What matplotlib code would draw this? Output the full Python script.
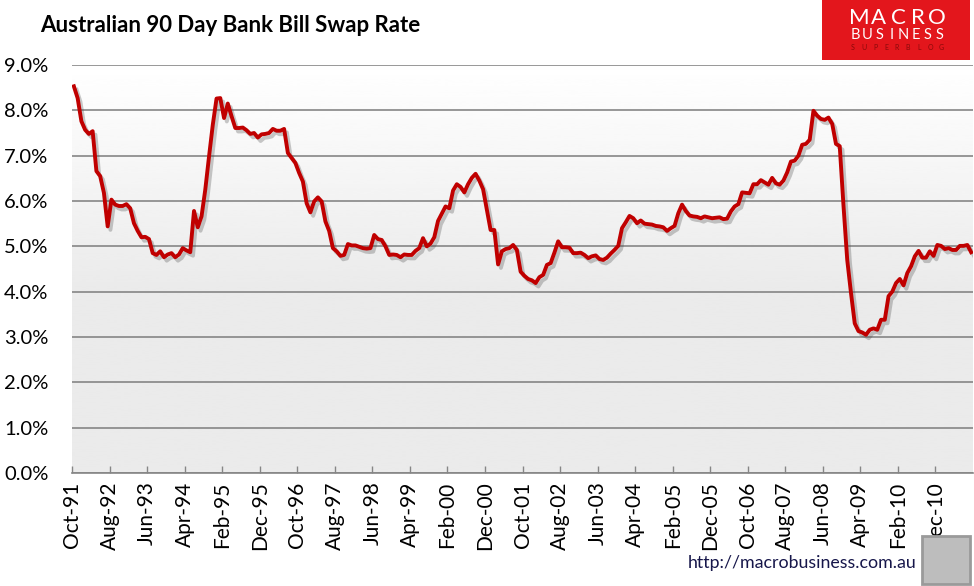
import numpy as np
import pandas as pd
import matplotlib.pyplot as plt
import matplotlib.patheffects as pe
from matplotlib.patches import Rectangle

plt.rcParams['font.family'] = ['Lato', 'DejaVu Sans']

# 90 day BBSW, monthly Oct-91 .. Sep-11 (%)
rate = [
    8.53, 8.27, 7.76, 7.57, 7.48, 7.54, 6.66, 6.55, 6.18, 5.44,   # Oct-91
    6.03, 5.92, 5.89, 5.89, 5.93, 5.84, 5.51, 5.34, 5.20, 5.21,   # Aug-92
    5.16, 4.85, 4.81, 4.89, 4.76, 4.82, 4.85, 4.76, 4.82, 4.96,   # Jun-93
    4.91, 4.87, 5.78, 5.42, 5.66, 6.25, 6.98, 7.68, 8.26, 8.27,   # Apr-94
    7.83, 8.15, 7.87, 7.61, 7.61, 7.62, 7.56, 7.48, 7.50, 7.40,   # Feb-95
    7.47, 7.48, 7.50, 7.59, 7.55, 7.55, 7.59, 7.06, 6.95, 6.84,   # Dec-95
    6.62, 6.43, 5.95, 5.75, 5.99, 6.08, 5.99, 5.55, 5.34, 4.96,   # Oct-96
    4.89, 4.79, 4.81, 5.05, 5.02, 5.02, 4.99, 4.96, 4.95, 4.96,   # Aug-97
    5.25, 5.16, 5.14, 5.00, 4.81, 4.82, 4.81, 4.76, 4.82, 4.81,   # Jun-98
    4.81, 4.90, 4.96, 5.18, 5.00, 5.06, 5.20, 5.56, 5.72, 5.88,   # Apr-99
    5.84, 6.23, 6.37, 6.31, 6.19, 6.37, 6.51, 6.60, 6.45, 6.26,   # Feb-00
    5.81, 5.36, 5.36, 4.60, 4.89, 4.94, 4.96, 5.03, 4.92, 4.44,   # Dec-00
    4.35, 4.28, 4.25, 4.19, 4.32, 4.37, 4.59, 4.63, 4.86, 5.11,   # Oct-01
    4.98, 4.98, 4.97, 4.85, 4.85, 4.86, 4.81, 4.74, 4.78, 4.80,   # Aug-02
    4.72, 4.70, 4.75, 4.84, 4.92, 5.01, 5.40, 5.53, 5.67, 5.62,   # Jun-03
    5.51, 5.57, 5.50, 5.49, 5.48, 5.45, 5.44, 5.42, 5.34, 5.40,   # Apr-04
    5.45, 5.73, 5.92, 5.78, 5.68, 5.66, 5.65, 5.62, 5.66, 5.64,   # Feb-05
    5.62, 5.63, 5.64, 5.60, 5.61, 5.77, 5.88, 5.93, 6.19, 6.18,   # Dec-05
    6.17, 6.37, 6.37, 6.46, 6.41, 6.36, 6.51, 6.39, 6.36, 6.45,   # Oct-06
    6.63, 6.87, 6.89, 7.00, 7.24, 7.26, 7.35, 7.99, 7.88, 7.81,   # Aug-07
    7.79, 7.84, 7.70, 7.26, 7.21, 5.90, 4.70, 3.97, 3.30, 3.13,   # Jun-08
    3.10, 3.05, 3.16, 3.19, 3.16, 3.38, 3.38, 3.90, 4.00, 4.19,   # Apr-09
    4.28, 4.14, 4.41, 4.56, 4.78, 4.90, 4.75, 4.75, 4.89, 4.79,   # Feb-10
    5.03, 5.01, 4.94, 4.96, 4.92, 4.92, 5.01, 5.01, 5.03, 4.87,   # Dec-10
]
months = pd.date_range('1991-10-01', periods=len(rate), freq='MS')
label_every = 10
x_labels = [d.strftime('%b-%y') for d in months[::label_every]]
y_ticks = np.arange(0, 10, 1)

W, H = 974, 586
fig = plt.figure(figsize=(W / 100, H / 100), dpi=100)
ax = fig.add_axes([72 / W, 1 - 473 / H, (973 - 72) / W, (473 - 65) / H])

n = len(rate)
x = np.arange(n)

# plot area background: white at the top fading to light grey
g = np.clip(np.linspace(0, 1, 300) / 0.55, 0, 1)
grad = (1 - 0.08 * g)[:, None]
ax.imshow(grad, extent=[-0.5, n - 0.5, 0, 9], aspect='auto', cmap='gray',
          vmin=0, vmax=1, zorder=-2, interpolation='bicubic')

ax.plot(x, rate, color='#c00000', lw=2.8, solid_joinstyle='round', zorder=3,
        path_effects=[pe.SimpleLineShadow(offset=(2, -2.5), shadow_color='0.3', alpha=0.3),
                      pe.Normal()])

ax.set_xlim(-0.5, n - 0.5)
ax.set_ylim(0, 9)
ax.set_yticks(y_ticks)
ax.set_yticklabels([f'{v:.1f}%' for v in y_ticks], fontsize=14.5)
ax.yaxis.grid(True, color='#868686', lw=1.2)
ax.set_axisbelow(True)
ax.tick_params(axis='y', length=0, pad=17)

ax.set_xticks(np.arange(0, n, label_every) - 0.5)
ax.set_xticklabels(x_labels, rotation=90, fontsize=15)
ax.tick_params(axis='x', direction='in', length=5, width=1, color='#868686', pad=6)

for s in ['left', 'right', 'top']:
    ax.spines[s].set_visible(False)
ax.spines['bottom'].set_color('#868686')
ax.spines['bottom'].set_linewidth(1.2)

fig.text(40 / W, 1 - 25 / H, 'Australian 90 Day Bank Bill Swap Rate',
         fontsize=16, fontweight='bold', va='center', ha='left')

# logo block, top right
fig.patches.append(Rectangle((822 / W, 1 - 60 / H), 148 / W, 60 / H,
                             transform=fig.transFigure, facecolor='#e3161c',
                             edgecolor='none', zorder=5))
for word, y0, fs, col, xs in [('MACRO', 18, 16, 'white', (859, 937)),
                              ('BUSINESS', 35, 10.5, 'white', (855, 940)),
                              ('SUPERBLOG', 48, 5, '#8a0a0a', (853, 941))]:
    for ch, xc in zip(word, np.linspace(xs[0], xs[1], len(word))):
        fig.text(xc / W, 1 - y0 / H, ch, fontsize=fs, color=col,
                 ha='center', va='center', zorder=6)

fig.text(688 / W, 1 - 563 / H, 'http://macrobusiness.com.au', fontsize=12.8,
         color='#16164a', va='center', ha='left')

# wolf badge, bottom right
fig.patches.append(Rectangle((922 / W, 1 - 584 / H), 48 / W, 48 / H,
                             transform=fig.transFigure, facecolor='#bdbdbd',
                             edgecolor='#9a9a9a', lw=2, zorder=5))

fig.savefig('out.png', dpi=100)
